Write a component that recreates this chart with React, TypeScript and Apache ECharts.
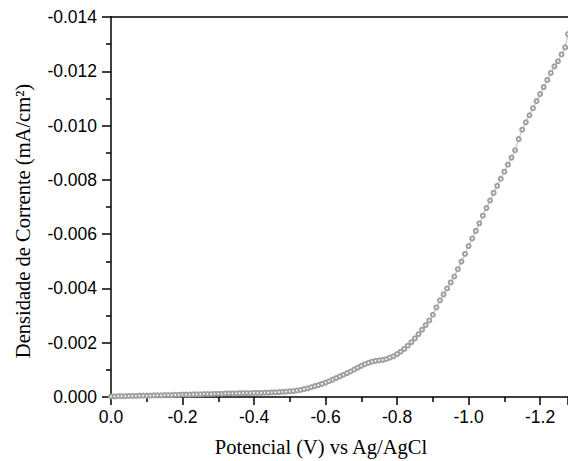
import React, { useEffect, useRef } from "react";
import * as echarts from "echarts";

// Potential (V vs Ag/AgCl)
const potential: number[] = [
  0.0, -0.01, -0.02, -0.03, -0.04, -0.05, -0.06, -0.07, -0.08, -0.09,
  -0.1, -0.11, -0.12, -0.13, -0.14, -0.15, -0.16, -0.17, -0.18, -0.19,
  -0.2, -0.21, -0.22, -0.23, -0.24, -0.25, -0.26, -0.27, -0.28, -0.29,
  -0.3, -0.31, -0.32, -0.33, -0.34, -0.35, -0.36, -0.37, -0.38, -0.39,
  -0.4, -0.41, -0.42, -0.43, -0.44, -0.45, -0.46, -0.47, -0.48, -0.49,
  -0.5, -0.51, -0.52, -0.53, -0.54, -0.55, -0.56, -0.57, -0.58, -0.59,
  -0.6, -0.61, -0.62, -0.63, -0.64, -0.65, -0.66, -0.67, -0.68, -0.69,
  -0.7, -0.71, -0.72, -0.73, -0.74, -0.75, -0.76, -0.77, -0.78, -0.79,
  -0.8, -0.81, -0.82, -0.83, -0.84, -0.85, -0.86, -0.87, -0.88, -0.89,
  -0.9, -0.91, -0.92, -0.93, -0.94, -0.95, -0.96, -0.97, -0.98, -0.99,
  -1.0, -1.01, -1.02, -1.03, -1.04, -1.05, -1.06, -1.07, -1.08, -1.09,
  -1.1, -1.11, -1.12, -1.13, -1.14, -1.15, -1.16, -1.17, -1.18, -1.19,
  -1.2, -1.21, -1.22, -1.23, -1.24, -1.25, -1.26, -1.27, -1.278,
];

// Current density (mA/cm2)
const currentDensity: number[] = [
  -0.00002, -0.00002, -0.00003, -0.00003, -0.00003, -0.00004, -0.00004, -0.00004, -0.00005, -0.00005,
  -0.00005, -0.00005, -0.00006, -0.00006, -0.00006, -0.00007, -0.00007, -0.00007, -0.00008, -0.00008,
  -0.00009, -0.00009, -0.00009, -0.0001, -0.0001, -0.0001, -0.00011, -0.00011, -0.00011, -0.00012,
  -0.00012, -0.00012, -0.00013, -0.00013, -0.00013, -0.00013, -0.00014, -0.00014, -0.00014, -0.00014,
  -0.00015, -0.00015, -0.00015, -0.00016, -0.00016, -0.00017, -0.00017, -0.00018, -0.00019, -0.0002,
  -0.00021, -0.00022, -0.00024, -0.00026, -0.00029, -0.00032, -0.00036, -0.0004, -0.00044, -0.00048,
  -0.00053, -0.00058, -0.00064, -0.0007, -0.00076, -0.00082, -0.00088, -0.00094, -0.00101, -0.00108,
  -0.00115, -0.00121, -0.00126, -0.0013, -0.00133, -0.00135, -0.00137, -0.0014, -0.00145, -0.0015,
  -0.00158, -0.00167, -0.00177, -0.00189, -0.00202, -0.00216, -0.00232, -0.00248, -0.00265, -0.00282,
  -0.00303, -0.0033, -0.00356, -0.00378, -0.004, -0.00422, -0.00444, -0.00471, -0.00499, -0.00527,
  -0.00556, -0.00584, -0.00612, -0.0064, -0.00668, -0.00696, -0.00724, -0.00752, -0.00778, -0.00804,
  -0.0083, -0.00856, -0.00882, -0.00909, -0.0095, -0.00985, -0.01012, -0.01038, -0.01064, -0.0109,
  -0.01116, -0.01142, -0.01168, -0.01194, -0.01218, -0.01237, -0.01262, -0.01288, -0.01337,
];

const xTickStep = 0.2;
const yTickStep = 0.002;
const xAxisTitle = "Potencial (V) vs Ag/AgCl";
const yAxisTitle = "Densidade de Corrente (mA/cm\u00B2)";

const isMultiple = (v: number, step: number) =>
  Math.abs(v / step - Math.round(v / step)) < 1e-6;

export default function App() {
  const ref = useRef<HTMLDivElement>(null);
  useEffect(() => {
    document.body.style.margin = "0";
    if (!ref.current) return;
    const chart = echarts.init(ref.current, undefined, { renderer: "svg" });
    const data = potential.map((p, i) => [-p, -currentDensity[i]]);
    const axisLine = { show: true, lineStyle: { color: "#000", width: 1.5 } };
    const labelFont = {
      fontFamily: "Liberation Sans, Arial, sans-serif",
      fontSize: 17.5,
      color: "#000",
    };
    const titleFont = '20.5px "Liberation Serif", "Times New Roman", serif';
    chart.setOption({
      animation: false,
      backgroundColor: "#fff",
      grid: { left: 111, top: 17, right: 0, bottom: 64, containLabel: false },
      xAxis: [
        {
          type: "value",
          min: 0,
          max: 1.278,
          interval: xTickStep,
          position: "bottom",
          axisLine,
          axisTick: { show: true, inside: false, length: 8, lineStyle: { color: "#000", width: 1.5 } },
          minorTick: { show: true, splitNumber: 2, length: 5, lineStyle: { color: "#000", width: 1.5 } },
          splitLine: { show: false },
          axisLabel: {
            ...labelFont,
            margin: 11,
            showMaxLabel: false,
            formatter: (v: number) =>
              !isMultiple(v, xTickStep) ? "" : v === 0 ? "0.0" : "-" + v.toFixed(1),
          },
        },
        {
          type: "value",
          min: 0,
          max: 1.278,
          position: "top",
          axisLine,
          axisTick: { show: false },
          axisLabel: { show: false },
          splitLine: { show: false },
        },
      ],
      yAxis: {
        type: "value",
        min: 0,
        max: 0.014,
        interval: yTickStep,
        axisLine,
        axisTick: { show: true, inside: false, length: 9, lineStyle: { color: "#000", width: 1.5 } },
        minorTick: { show: true, splitNumber: 2, length: 5, lineStyle: { color: "#000", width: 1.5 } },
        splitLine: { show: false },
        axisLabel: {
          ...labelFont,
          margin: 14,
          formatter: (v: number) => (v === 0 ? "0.000" : "-" + v.toFixed(3)),
        },
      },
      graphic: [
        {
          type: "text",
          x: 321,
          y: 447,
          style: {
            text: xAxisTitle,
            font: titleFont,
            fill: "#000",
            align: "center",
            verticalAlign: "middle",
          },
        },
        {
          type: "text",
          x: 23,
          y: 221,
          rotation: Math.PI / 2,
          style: {
            text: yAxisTitle,
            font: titleFont,
            fill: "#000",
            align: "center",
            verticalAlign: "middle",
          },
        },
      ],
      series: [
        {
          type: "line",
          data,
          xAxisIndex: 0,
          symbol: "emptyCircle",
          symbolSize: 4,
          showAllSymbol: true,
          clip: false,
          lineStyle: { color: "#c4c4c4", width: 1.2 },
          itemStyle: { color: "#a0a0a0", borderWidth: 0.8 },
        },
      ],
    });
    return () => chart.dispose();
  }, []);
  return <div ref={ref} style={{ width: 568, height: 461 }} />;
}
